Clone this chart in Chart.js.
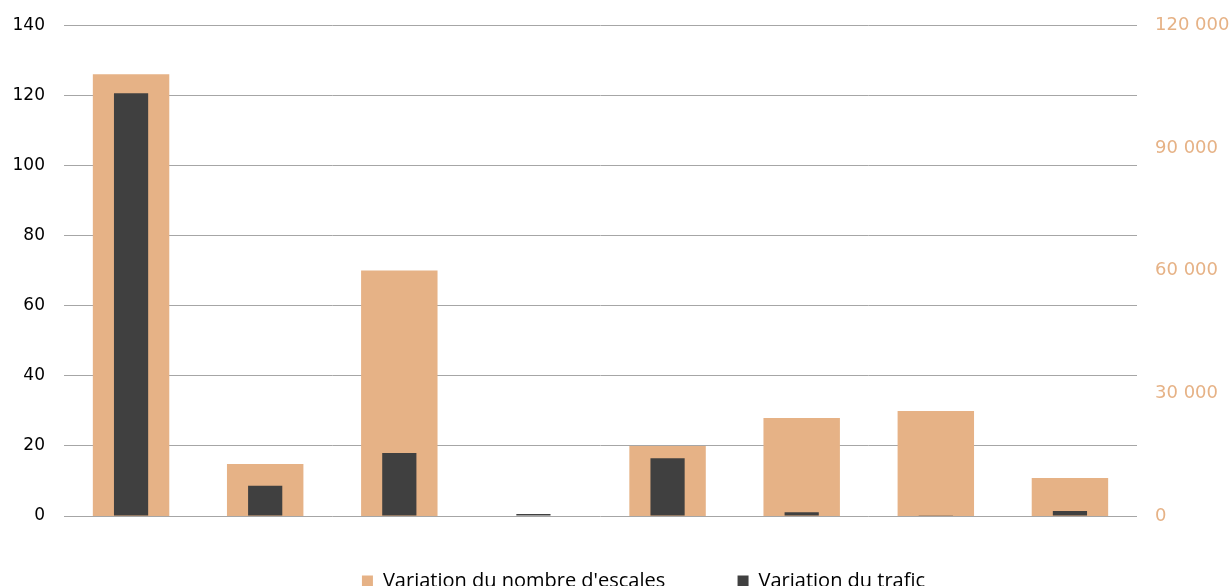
<!DOCTYPE html>
<html>
<head>
<meta charset="utf-8">
<script src="https://cdn.jsdelivr.net/npm/chart.js@4/dist/chart.umd.min.js"></script>
<style>
  html, body { margin: 0; padding: 0; background: #fff; overflow: hidden; }
  #wrap { width: 1231px; height: 605px; position: relative; margin-top: -4px; }
</style>
</head>
<body>
<div id="wrap"><canvas id="myChart"></canvas></div>
<script>
const categories = ["", "", "", "", "", "", "", ""];
const escales = [108000, 12700, 60000, 0, 17100, 23950, 25650, 9300];
const trafic = [120.6, 8.6, 18, 0.6, 16.5, 1.1, 0.2, 1.4];
const leftTicks = [0, 20, 40, 60, 80, 100, 120, 140];
const rightTicks = [0, 30000, 60000, 90000, 120000];

const orange = "#e6b286";
const dark = "#404040";
const gridColor = "#a6a6a6";

// nudge the legend a bit to the right, like in the original
const shiftLegend = {
  id: "shiftLegend",
  beforeDraw: function (chart) {
    if (chart.legend) chart.legend.left = 56;
  },
};

new Chart("myChart", {
  type: "bar",
  plugins: [shiftLegend],
  data: {
    labels: categories,
    datasets: [
      {
        label: "Variation du trafic",
        data: trafic,
        backgroundColor: dark,
        yAxisID: "y",
        barPercentage: 0.255,
        categoryPercentage: 1,
        order: 0,
      },
      {
        label: "Variation du nombre d'escales",
        data: escales,
        backgroundColor: orange,
        yAxisID: "y1",
        barPercentage: 0.57,
        categoryPercentage: 1,
        order: 1,
      },
    ],
  },
  options: {
    responsive: true,
    maintainAspectRatio: false,
    animation: false,
    datasets: { bar: { grouped: false } },
    layout: { padding: { top: 9, left: 0, right: 0, bottom: 0 } },
    plugins: {
      tooltip: { enabled: false },
      legend: {
        position: "bottom",
        labels: {
          color: "#000",
          font: { family: "'Open Sans'", size: 20 },
          boxWidth: 11,
          boxHeight: 11,
          padding: 10,
          sort: (a, b) => b.datasetIndex - a.datasetIndex,
          generateLabels: function (chart) {
            const items = Chart.defaults.plugins.legend.labels.generateLabels(chart);
            items.forEach(function (it) {
              if (it.datasetIndex === 1) it.text = it.text + "\u00a0\u00a0\u00a0\u00a0\u00a0\u00a0\u00a0\u00a0\u00a0\u00a0\u00a0\u00a0";
              it.lineWidth = 0;
            });
            return items;
          },
        },
      },
    },
    scales: {
      x: {
        ticks: { display: false },
        grid: { display: false },
        border: { display: false },
        afterFit: function (s) { s.height = 45; },
      },
      y: {
        position: "left",
        min: 0,
        max: 140,
        afterBuildTicks: function (s) { s.ticks = leftTicks.map(v => ({ value: v })); },
        ticks: {
          color: "#000",
          padding: 19,
          font: { family: "'DejaVu Sans'", size: 17 },
        },
        grid: { color: gridColor, drawTicks: false, lineWidth: 1 },
        border: { display: false },
        afterFit: function (s) { s.width = 64; },
      },
      y1: {
        position: "right",
        min: 0,
        max: 120000,
        afterBuildTicks: function (s) { s.ticks = rightTicks.map(v => ({ value: v })); },
        ticks: {
          color: orange,
          padding: 10,
          font: { family: "'DejaVu Sans'", size: 18 },
          callback: v => v.toString().replace(/\B(?=(\d{3})+(?!\d))/g, " "),
        },
        grid: { display: false },
        border: { display: false },
        afterFit: function (s) { s.width = 94; },
      },
    },
  },
});
</script>
</body>
</html>
